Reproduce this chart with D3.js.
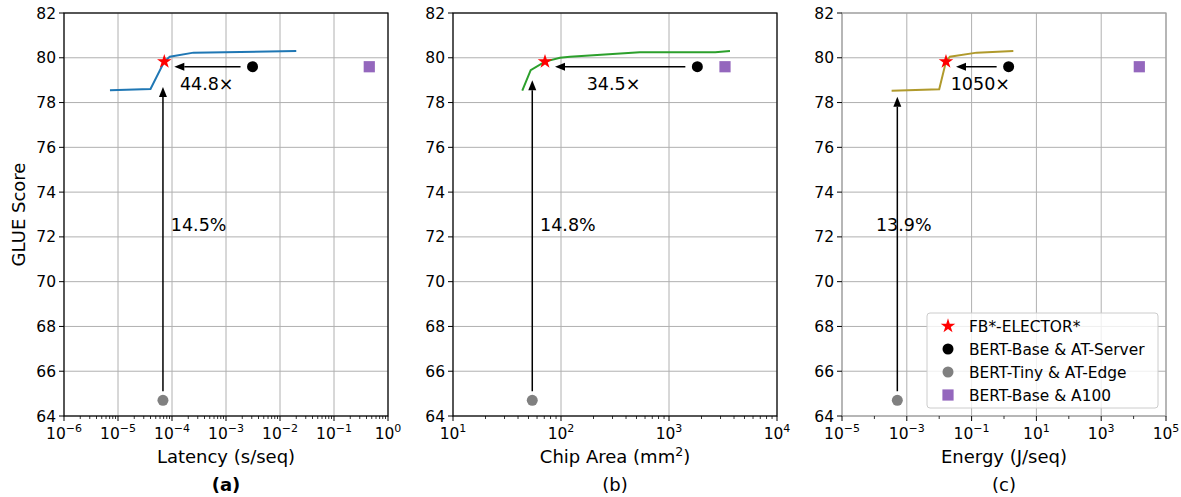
<!DOCTYPE html>
<html>
<head>
<meta charset="utf-8">
<script src="https://cdn.jsdelivr.net/npm/d3@7"></script>
<style>
  body { margin: 0; background: #fff; }
  svg { display: block; }
  text { font-family: "DejaVu Sans", sans-serif; fill: #000; }
</style>
</head>
<body>
<svg id="chart" width="1181" height="497"></svg>
<script>
// ---- data ----
const yTicks = [64, 66, 68, 70, 72, 74, 76, 78, 80, 82]

// (a) latency, s/seq
const latencyFrontier = [[7.1e-6, 78.55], [4.0e-5, 78.61], [7.2e-5, 79.83], [9.1e-5, 80.05], [2.5e-4, 80.23], [2.0e-2, 80.3]]
const latencyPoints = { elector: [7.2e-5, 79.83], server: [3.1e-3, 79.6], edge: [6.8e-5, 64.7], a100: [0.45, 79.6] }
const latencyNotes = { speedup: "44.8×", speedupAt: [1.4e-4, 78.56], gain: "14.5%", gainAt: [9.5e-5, 72.28], arrowTip: 78.7 }

// (b) chip area, mm^2
const areaFrontier = [[43.8, 78.53], [52.4, 79.45], [71.1, 79.83], [97.9, 80.0], [121, 80.05], [537, 80.25], [2680, 80.25], [3670, 80.3]]
const areaPoints = { elector: [71.1, 79.83], server: [1830, 79.6], edge: [54.2, 64.7], a100: [3300, 79.6] }
const areaNotes = { speedup: "34.5×", speedupAt: [173, 78.56], gain: "14.8%", gainAt: [64, 72.28], arrowTip: 79.0 }

// (c) energy, J/seq
const energyFrontier = [[3.4e-4, 78.53], [1.0e-2, 78.59], [1.62e-2, 79.83], [2.14e-2, 80.05], [0.144, 80.23], [1.94, 80.3]]
const energyPoints = { elector: [1.62e-2, 79.83], server: [1.39, 79.6], edge: [5.1e-4, 64.7], a100: [1.5e4, 79.6] }
const energyNotes = { speedup: "1050×", speedupAt: [2.27e-2, 78.56], gain: "13.9%", gainAt: [1.12e-4, 72.28], arrowTip: 78.26 }

const legendLabels = ["FB*-ELECTOR*", "BERT-Base & AT-Server", "BERT-Tiny & AT-Edge", "BERT-Base & A100"]

const panels = [
  { left: 64, domain: [1e-6, 1], majorExp: [-6, -5, -4, -3, -2, -1, 0], minorEvery: true,
    line: latencyFrontier, pts: latencyPoints, notes: latencyNotes, color: "#1f77b4",
    xlabel: "Latency (s/seq)", caption: "(a)", captionBold: true, spine: "#000", yLabel: true },
  { left: 453, domain: [10, 1e4], majorExp: [1, 2, 3, 4], minorEvery: true,
    line: areaFrontier, pts: areaPoints, notes: areaNotes, color: "#2ca02c",
    xlabel: "Chip Area (mm", xsup: "2", caption: "(b)", spine: "#000" },
  { left: 842, domain: [1e-5, 1e5], majorExp: [-5, -3, -1, 1, 3, 5], minorEvery: false,
    line: energyFrontier, pts: energyPoints, notes: energyNotes, color: "#b09a2c",
    xlabel: "Energy (J/seq)", caption: "(c)", spine: "#a0a0a0", legend: true }
]

const W = 324, TOP = 13, BOTTOM = 416
const svg = d3.select("#chart")
const y = d3.scaleLinear().domain([64, 82]).range([BOTTOM, TOP])
const sup = s => s.replace("-", "−")

svg.append("text")
  .attr("transform", `translate(25, ${(TOP + BOTTOM) / 2}) rotate(-90)`)
  .attr("text-anchor", "middle")
  .attr("font-size", "18px")
  .text("GLUE Score")

function arrow(g, x1, y1, x2, y2) {
  const dx = x2 - x1, dy = y2 - y1, len = Math.hypot(dx, dy)
  const ux = dx / len, uy = dy / len
  const hl = 10, hw = 4
  const bx = x2 - ux * hl, by = y2 - uy * hl
  g.append("line").attr("x1", x1).attr("y1", y1).attr("x2", bx).attr("y2", by)
    .attr("stroke", "#000").attr("stroke-width", 1.5)
  g.append("path")
    .attr("d", `M${x2},${y2} L${bx - uy * hw},${by + ux * hw} L${bx + uy * hw},${by - ux * hw} Z`)
    .attr("fill", "#000")
}

panels.forEach(p => {
  const x = d3.scaleLog().domain(p.domain).range([p.left, p.left + W])
  const g = svg.append("g")

  // grid
  yTicks.forEach(t => {
    g.append("line").attr("x1", p.left).attr("x2", p.left + W).attr("y1", y(t)).attr("y2", y(t))
      .attr("stroke", "#b0b0b0").attr("stroke-width", 1)
  })
  p.majorExp.forEach(e => {
    const xv = x(Math.pow(10, e))
    g.append("line").attr("x1", xv).attr("x2", xv).attr("y1", TOP).attr("y2", BOTTOM)
      .attr("stroke", "#b0b0b0").attr("stroke-width", 1)
  })

  // frontier line
  g.append("path")
    .datum(p.line)
    .attr("d", d3.line().x(d => x(d[0])).y(d => y(d[1])))
    .attr("fill", "none").attr("stroke", p.color).attr("stroke-width", 2)

  // arrows
  const s = p.pts
  const hy = y(s.server[1])
  arrow(g, x(s.server[0]) - 12, hy, x(s.elector[0]) + 10, hy)
  const vx = x(s.edge[0])
  arrow(g, vx, y(s.edge[1]) - 9, vx, y(p.notes.arrowTip))

  // notes
  g.append("text").attr("x", x(p.notes.speedupAt[0])).attr("y", y(p.notes.speedupAt[1]))
    .attr("font-size", "17.5px").text(p.notes.speedup)
  g.append("text").attr("x", x(p.notes.gainAt[0])).attr("y", y(p.notes.gainAt[1]))
    .attr("font-size", "17.5px").text(p.notes.gain)

  // markers
  g.append("circle").attr("cx", x(s.server[0])).attr("cy", y(s.server[1])).attr("r", 5.5).attr("fill", "#000")
  g.append("circle").attr("cx", vx).attr("cy", y(s.edge[1])).attr("r", 5.5).attr("fill", "#808080")
  g.append("rect").attr("x", x(s.a100[0]) - 5.6).attr("y", y(s.a100[1]) - 5.6)
    .attr("width", 11.2).attr("height", 11.2).attr("fill", "#9467bd")
  g.append("path").attr("d", d3.symbol(d3.symbolStar, 66)())
    .attr("transform", `translate(${x(s.elector[0])},${y(s.elector[1])})`).attr("fill", "#ff0000")

  // spines
  g.append("rect").attr("x", p.left).attr("y", TOP).attr("width", W).attr("height", BOTTOM - TOP)
    .attr("fill", "none").attr("stroke", p.spine).attr("stroke-width", 1.2)

  // y ticks
  yTicks.forEach(t => {
    g.append("line").attr("x1", p.left - 5).attr("x2", p.left).attr("y1", y(t)).attr("y2", y(t))
      .attr("stroke", "#000").attr("stroke-width", 1)
    g.append("text").attr("x", p.left - 8).attr("y", y(t) + 5.5).attr("text-anchor", "end")
      .attr("font-size", "15.5px").text(t)
  })

  // x ticks (major + minor)
  const e0 = Math.log10(p.domain[0]), e1 = Math.log10(p.domain[1])
  for (let e = e0; e < e1; e++) {
    if (p.minorEvery) {
      for (let k = 2; k < 10; k++) {
        const xv = x(k * Math.pow(10, e))
        g.append("line").attr("x1", xv).attr("x2", xv).attr("y1", BOTTOM).attr("y2", BOTTOM + 3)
          .attr("stroke", "#000").attr("stroke-width", 0.8)
      }
    } else if (!p.majorExp.includes(e)) {
      const xv = x(Math.pow(10, e))
      g.append("line").attr("x1", xv).attr("x2", xv).attr("y1", BOTTOM).attr("y2", BOTTOM + 3)
        .attr("stroke", "#000").attr("stroke-width", 0.8)
    }
  }
  p.majorExp.forEach(e => {
    const xv = x(Math.pow(10, e))
    g.append("line").attr("x1", xv).attr("x2", xv).attr("y1", BOTTOM).attr("y2", BOTTOM + 5)
      .attr("stroke", "#000").attr("stroke-width", 1)
    const t = g.append("text").attr("x", xv).attr("y", 439).attr("text-anchor", "middle")
      .attr("font-size", "15.5px")
    t.append("tspan").text("10")
    t.append("tspan").attr("dy", -7).attr("font-size", "11px").text(sup(String(e)))
  })

  // axis label and caption
  const cx = p.left + W / 2
  const xl = g.append("text").attr("x", cx).attr("y", 463).attr("text-anchor", "middle").attr("font-size", "18px")
  xl.append("tspan").text(p.xlabel)
  if (p.xsup) {
    xl.append("tspan").attr("dy", -7).attr("font-size", "12.5px").text(p.xsup)
    xl.append("tspan").attr("dy", 7).text(")")
  }
  g.append("text").attr("x", cx).attr("y", 491).attr("text-anchor", "middle").attr("font-size", "18px")
    .attr("font-weight", p.captionBold ? "bold" : "normal").text(p.caption)

  // legend
  if (p.legend) {
    const lg = g.append("g")
    lg.append("rect").attr("x", 927).attr("y", 313).attr("width", 231).attr("height", 95).attr("rx", 3)
      .attr("fill", "#fff").attr("fill-opacity", 0.8).attr("stroke", "#cccccc")
    const ly = i => 326 + i * 23
    lg.append("path").attr("d", d3.symbol(d3.symbolStar, 66)())
      .attr("transform", `translate(948,${ly(0)})`).attr("fill", "#ff0000")
    lg.append("circle").attr("cx", 948).attr("cy", ly(1)).attr("r", 5.5).attr("fill", "#000")
    lg.append("circle").attr("cx", 948).attr("cy", ly(2)).attr("r", 5.5).attr("fill", "#808080")
    lg.append("rect").attr("x", 942.4).attr("y", ly(3) - 5.6).attr("width", 11.2).attr("height", 11.2).attr("fill", "#9467bd")
    legendLabels.forEach((l, i) => {
      lg.append("text").attr("x", 969).attr("y", ly(i) + 5.5).attr("font-size", "15.4px").text(l)
    })
  }
})
</script>
</body>
</html>
